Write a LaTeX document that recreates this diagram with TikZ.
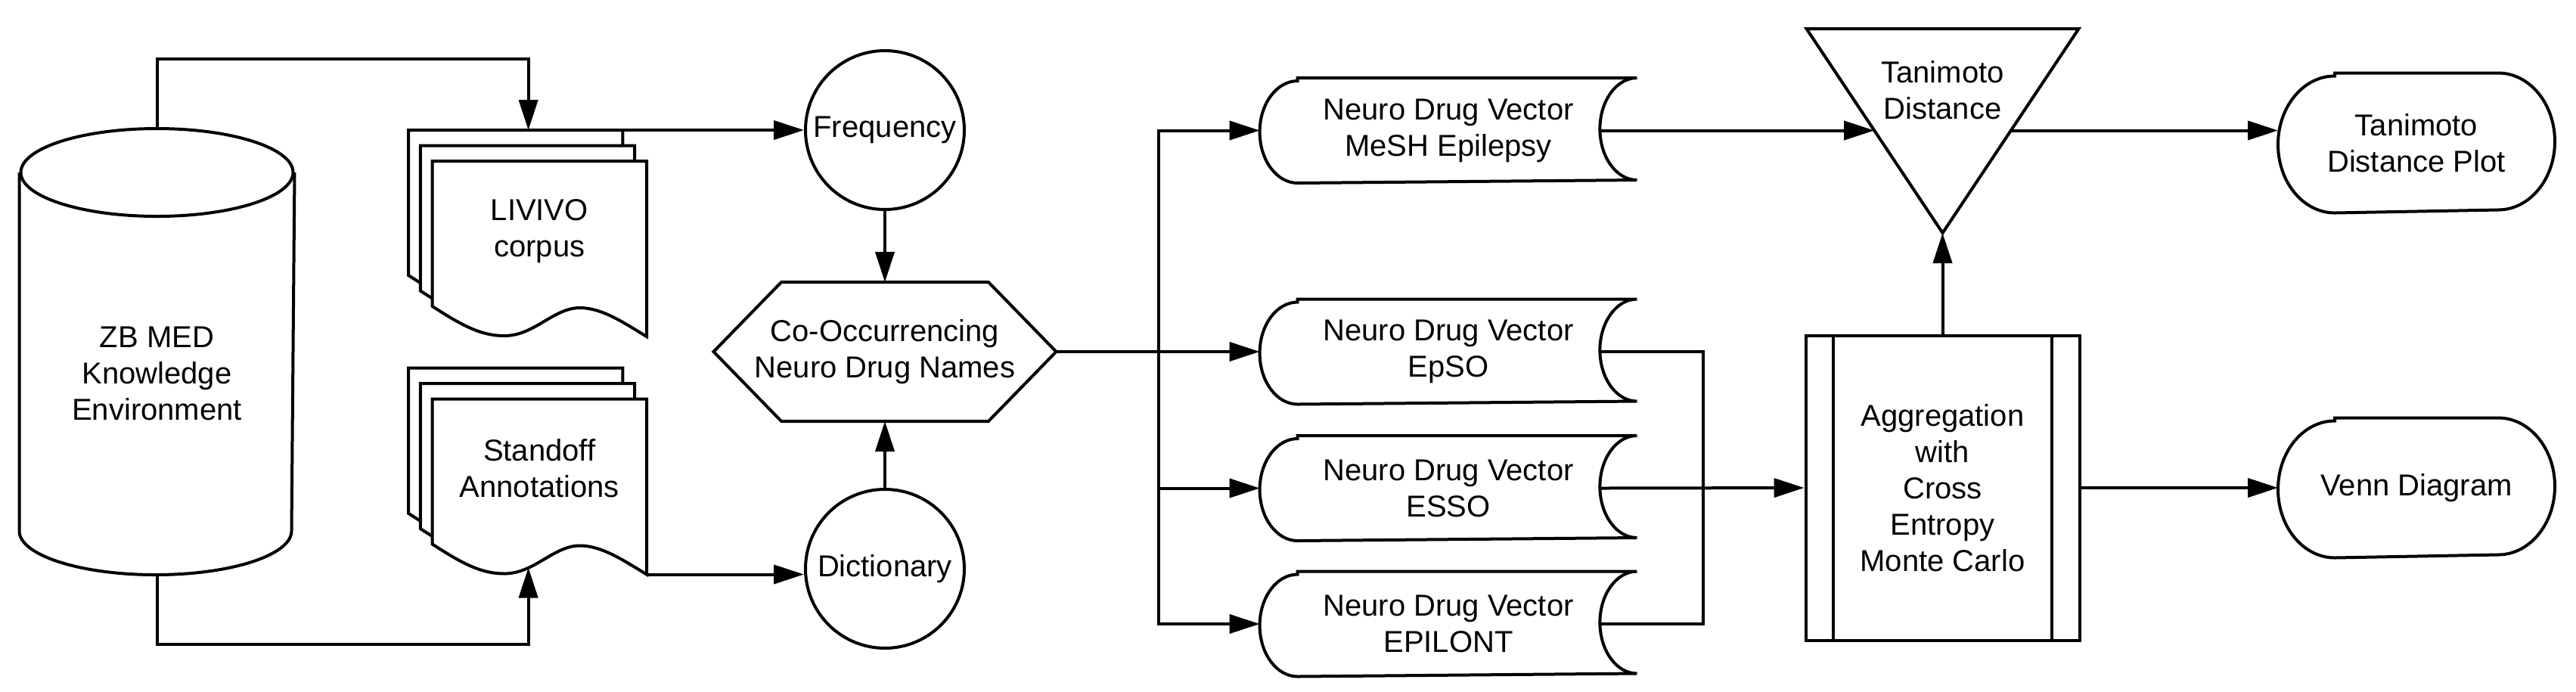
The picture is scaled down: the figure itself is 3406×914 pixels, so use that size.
\documentclass[tikz,border=0pt]{standalone}
\usepackage{fontspec}
\setmainfont{Liberation Sans}
\usetikzlibrary{arrows.meta,calc}
\newcommand{\sdshape}[1]{\draw ([xshift=12.5pt]#1.north west) -- (#1.north east) arc[start angle=270,end angle=90,x radius=49,y radius=67.5] -- ([xshift=12.5pt]#1.south west) arc[start angle=90,end angle=270,x radius=50,y radius=67.5] -- cycle;}
\newcommand{\termshape}[1]{\draw ([xshift=18.75pt]#1.north west) -- ([xshift=-18.75pt]#1.north east) arc[start angle=270,end angle=450,x radius=75,y radius=90.5] -- ([xshift=18.75pt]#1.south west) arc[start angle=90,end angle=270,x radius=75,y radius=90.5] -- cycle;}
\begin{document}
\begin{tikzpicture}[x=0.25pt,y=-0.25pt,line width=1pt,
  arr/.style={-{Triangle[length=10pt,width=6.25pt]}},
  txt/.style={font=\fontsize{10}{12}\selectfont, align=center, inner sep=0pt},
  sd/.style={txt, minimum width=123.7pt, minimum height=33.75pt},
  term/.style={txt, minimum width=90.5pt, minimum height=45.25pt},
  circ/.style={txt, circle, draw, fill=white, minimum size=52.5pt},
  docsheet/.pic={\draw[fill=white] (0,0) -- (283.3,0) -- (283.3,232) .. controls (255,215) and (225,194) .. (195,194) .. controls (160,194) and (135,231) .. (95,231) .. controls (65,231) and (40,218) .. (0,192) -- cycle;}
]
\fill[white] (0,0) rectangle (3406,914);
\useasboundingbox (0,0) rectangle (3406,914);

% ZB MED cylinder
\node[minimum width=90pt, minimum height=146.5pt, inner sep=0pt] (zbmed) at (207.5,465) {};
\draw ([yshift=-14.5pt]zbmed.north west) -- ([yshift=14.5pt]zbmed.south west) arc[start angle=180,end angle=0,x radius=180,y radius=58] -- ([yshift=-14.5pt]zbmed.north east);
\draw ([yshift=-14.5pt]zbmed.north) ellipse[x radius=180, y radius=58];
\node[txt] (zbmedt) at (207.5,494) {ZB MED\\Knowledge\\Environment};

% LIVIVO stack
\pic at (540,172) {docsheet};
\pic at (555.8,192.5) {docsheet};
\pic at (571.7,213) {docsheet};
\node[txt] (livivo) at (713.3,306) {LIVIVO\\corpus};
\coordinate (livout) at (823.3,172);
\coordinate (livin) at (698.6,172);

% Standoff stack
\pic at (540,486.7) {docsheet};
\pic at (555.8,507) {docsheet};
\pic at (571.7,527.5) {docsheet};
\node[txt] (standoff) at (713.3,619.5) {Standoff\\Annotations};
\coordinate (stout) at (855,759.5);
\coordinate (stin) at (698.6,750.5);

% circles and hexagon
\node[circ] (freq) at (1170,172) {Frequency};
\node[circ] (dict) at (1170,752) {Dictionary};
\node[txt, minimum width=112.25pt, minimum height=45pt] (hex) at (1170,465) {Co-Occurrencing\\Neuro Drug Names};
\draw (hex.west) -- ([xshift=22.4pt]hex.north west) -- ([xshift=-22.4pt]hex.north east) -- (hex.east) -- ([xshift=-22.4pt]hex.south east) -- ([xshift=22.4pt]hex.south west) -- cycle;

% stored data vectors
\node[sd] (mesh) at (1915,172.5) {Neuro Drug Vector\\MeSH Epilepsy};
\node[sd] (epso) at (1915,465) {Neuro Drug Vector\\EpSO};
\node[sd] (esso) at (1915,645.5) {Neuro Drug Vector\\ESSO};
\node[sd] (epilont) at (1915,825) {Neuro Drug Vector\\EPILONT};
\sdshape{mesh}
\sdshape{epso}
\sdshape{esso}
\sdshape{epilont}
\coordinate (meshE) at ([xshift=-12.25pt]mesh.east);
\coordinate (epsoE) at ([xshift=-12.25pt]epso.east);
\coordinate (essoE) at ([xshift=-12.25pt]esso.east);
\coordinate (epilontE) at ([xshift=-12.25pt]epilont.east);

% Tanimoto triangle
\draw (2388.5,38) -- (2748.5,38) -- (2568.5,308) -- cycle;
\node[txt] (tani) at (2568.5,119) {Tanimoto\\Distance};
\coordinate (triin) at (2478.2,172.5);
\coordinate (triout) at (2658.8,172.5);
\coordinate (triapex) at (2568.5,308);

% Aggregation
\node[txt, draw, minimum width=90.5pt, minimum height=100.75pt] (agg) at (2568.5,645) {Aggregation\\with\\Cross\\Entropy\\Monte Carlo};
\draw ([xshift=9.625pt]agg.north west) -- ([xshift=9.625pt]agg.south west);
\draw ([xshift=-9.625pt]agg.north east) -- ([xshift=-9.625pt]agg.south east);

% terminals
\node[term] (plot) at (3195,189) {Tanimoto\\Distance Plot};
\node[term] (venn) at (3195,645) {Venn Diagram};
\termshape{plot}
\termshape{venn}

% connectors
\draw[arr] (zbmed.north) -- ++(0,-92) -| (livin);
\draw[arr] (zbmed.south) -- ++(0,92) -| (stin);
\draw[arr] (livout) -- (freq.west);
\draw[arr] (stout) -- (stout -| dict.west);
\draw[arr] (freq.south) -- (hex.north);
\draw[arr] (dict.north) -- (hex.south);
\coordinate (bus) at (1531.5,465);
\draw[arr] (hex.east) -- (epso.west);
\draw[arr] (bus) |- (mesh.west);
\draw[arr] (bus) |- (esso.west);
\draw[arr] (bus) |- (epilont.west);
\draw[arr] (meshE) -- (triin);
\coordinate (rbus) at (2251.6,465);
\draw (epsoE) -- (rbus) |- (epilontE);
\draw[arr] (essoE) -- (agg.west);
\draw[arr] (agg.north) -- (triapex);
\draw[arr] (triout) -- (triout -| plot.west);
\draw[arr] (agg.east) -- (venn.west);
\end{tikzpicture}
\end{document}
